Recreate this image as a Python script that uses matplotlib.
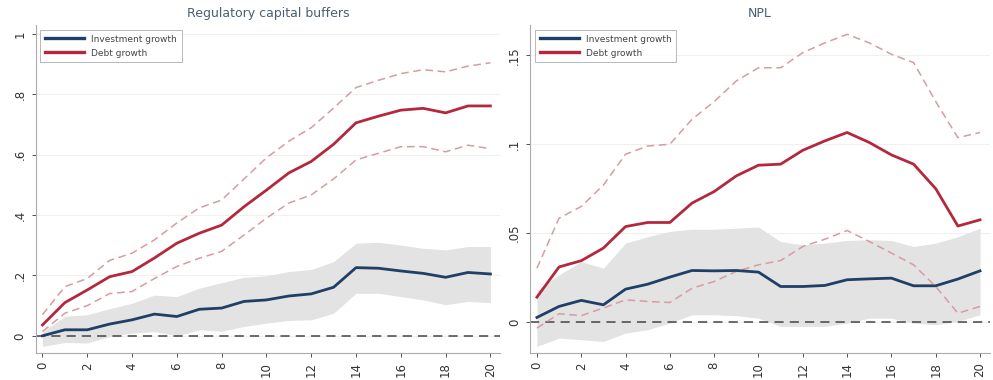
import matplotlib.pyplot as plt
import numpy as np

# horizons
h = np.arange(0, 21)

# Regulatory capital buffers panel
rcb_inv = [0.0, 0.02, 0.02, 0.039, 0.053, 0.072, 0.064, 0.088, 0.092, 0.114, 0.119,
           0.132, 0.139, 0.161, 0.226, 0.224, 0.215, 0.207, 0.194, 0.21, 0.205]
rcb_inv_hi = [0.012, 0.065, 0.07, 0.09, 0.108, 0.135, 0.13, 0.158, 0.176, 0.194, 0.199,
              0.213, 0.22, 0.246, 0.307, 0.31, 0.301, 0.29, 0.285, 0.296, 0.296]
rcb_inv_lo = [-0.035, -0.022, -0.024, -0.002, 0.009, 0.014, 0.0, 0.02, 0.015, 0.031, 0.042,
              0.051, 0.053, 0.075, 0.141, 0.141, 0.13, 0.119, 0.103, 0.114, 0.11]
rcb_debt = [0.036, 0.11, 0.152, 0.196, 0.213, 0.258, 0.307, 0.34, 0.367, 0.428, 0.483,
            0.54, 0.578, 0.635, 0.706, 0.728, 0.748, 0.754, 0.739, 0.762, 0.762]
rcb_debt_hi = [0.07, 0.163, 0.19, 0.25, 0.274, 0.318, 0.374, 0.424, 0.45, 0.52, 0.59,
               0.645, 0.69, 0.755, 0.823, 0.847, 0.869, 0.882, 0.875, 0.894, 0.905]
rcb_debt_lo = [0.014, 0.075, 0.1, 0.14, 0.147, 0.19, 0.23, 0.257, 0.28, 0.334, 0.39,
               0.44, 0.467, 0.52, 0.583, 0.605, 0.627, 0.627, 0.61, 0.632, 0.62]

# NPL panel
npl_inv = [0.0026, 0.0088, 0.0122, 0.0097, 0.0185, 0.0213, 0.0253, 0.029, 0.0288, 0.029, 0.0281,
           0.02, 0.02, 0.0206, 0.0238, 0.0243, 0.0247, 0.0204, 0.0204, 0.0242, 0.0288]
npl_inv_hi = [0.018, 0.0266, 0.034, 0.0303, 0.0444, 0.048, 0.051, 0.0522, 0.0522, 0.0528, 0.0534,
              0.0453, 0.0434, 0.0444, 0.0459, 0.0463, 0.0459, 0.0425, 0.0444, 0.048, 0.0528]
npl_inv_lo = [-0.0137, -0.009, -0.0099, -0.0109, -0.0062, -0.0043, -0.0006, 0.0041, 0.0041, 0.0036, 0.0022,
              -0.0024, -0.0024, -0.0024, -0.0006, 0.0022, 0.0022, -0.0006, -0.0015, 0.0004, 0.0041]
npl_debt = [0.014, 0.031, 0.0345, 0.0416, 0.0537, 0.056, 0.056, 0.0669, 0.0734, 0.0822, 0.0882,
            0.0888, 0.0966, 0.1019, 0.1066, 0.101, 0.094, 0.0888, 0.075, 0.054, 0.0575]
npl_debt_hi = [0.0303, 0.0584, 0.065, 0.077, 0.0944, 0.099, 0.1, 0.114, 0.124, 0.1356, 0.143,
               0.143, 0.1515, 0.157, 0.1618, 0.157, 0.1506, 0.1459, 0.124, 0.1037, 0.1066]
npl_debt_lo = [-0.0034, 0.0047, 0.0036, 0.0079, 0.0125, 0.0116, 0.011, 0.019, 0.0228, 0.0285, 0.0322,
               0.0346, 0.0425, 0.0466, 0.0515, 0.0453, 0.0388, 0.0322, 0.02, 0.005, 0.0088]

rcb_ticks = [0, 0.2, 0.4, 0.6, 0.8, 1.0]
rcb_labels = ['0', '.2', '.4', '.6', '.8', '1']
npl_ticks = [0, 0.05, 0.1, 0.15]
npl_labels = ['0', '.05', '.1', '.15']
x_ticks = list(range(0, 21, 2))

navy = '#1f3f66'
red = '#b3283c'
pink = '#d69ca1'
band = '#e3e3e3'
title_col = '#4a5f74'

fig = plt.figure(figsize=(9.93, 3.8), dpi=100)
ax1 = fig.add_axes([0.036, 0.071, 0.468, 0.863])
ax2 = fig.add_axes([0.534, 0.071, 0.463, 0.863])


def panel(ax, title, inv, inv_lo, inv_hi, debt, debt_lo, debt_hi, yt, yl, ylim):
    ax.fill_between(h, inv_lo, inv_hi, color=band, lw=0, zorder=1)
    ax.axhline(0, color='#444444', lw=1.1, ls=(0, (6, 4)), zorder=2)
    ax.plot(h, debt_hi, color=pink, lw=1.1, ls=(0, (5, 3)), zorder=3)
    ax.plot(h, debt_lo, color=pink, lw=1.1, ls=(0, (5, 3)), zorder=3)
    ax.plot(h, inv, color=navy, lw=2.0, label='Investment growth', zorder=4)
    ax.plot(h, debt, color=red, lw=2.0, label='Debt growth', zorder=4)
    ax.set_title(title, fontsize=9, color=title_col, pad=6)
    ax.set_xlim(-0.3, 20.45)
    ax.set_ylim(*ylim)
    ax.set_yticks(yt)
    ax.set_yticklabels(yl, rotation=90, va='center')
    ax.set_xticks(x_ticks)
    ax.set_xticklabels([str(t) for t in x_ticks], rotation=90)
    ax.tick_params(labelsize=8.5, colors='#333333', length=3, width=0.6)
    ax.grid(axis='y', color='#f0f0f0', lw=0.8)
    ax.set_axisbelow(True)
    for s in ['top', 'right']:
        ax.spines[s].set_visible(False)
    for s in ['left', 'bottom']:
        ax.spines[s].set_color('#aaaaaa')
        ax.spines[s].set_linewidth(0.8)
    leg = ax.legend(loc='upper left', fontsize=6.5, frameon=True, fancybox=False,
                    edgecolor='#999999', handlelength=4.3, borderpad=0.55,
                    labelspacing=0.55, bbox_to_anchor=(0.0, 1.0))
    leg.get_frame().set_linewidth(0.6)
    for line in leg.get_lines():
        line.set_linewidth(2.4)
    for t in leg.get_texts():
        t.set_color('#444444')


panel(ax1, 'Regulatory capital buffers', rcb_inv, rcb_inv_lo, rcb_inv_hi,
      rcb_debt, rcb_debt_lo, rcb_debt_hi, rcb_ticks, rcb_labels, (-0.057, 1.03))
panel(ax2, 'NPL', npl_inv, npl_inv_lo, npl_inv_hi,
      npl_debt, npl_debt_lo, npl_debt_hi, npl_ticks, npl_labels, (-0.0174, 0.167))

fig.savefig('out.png', dpi=100)
